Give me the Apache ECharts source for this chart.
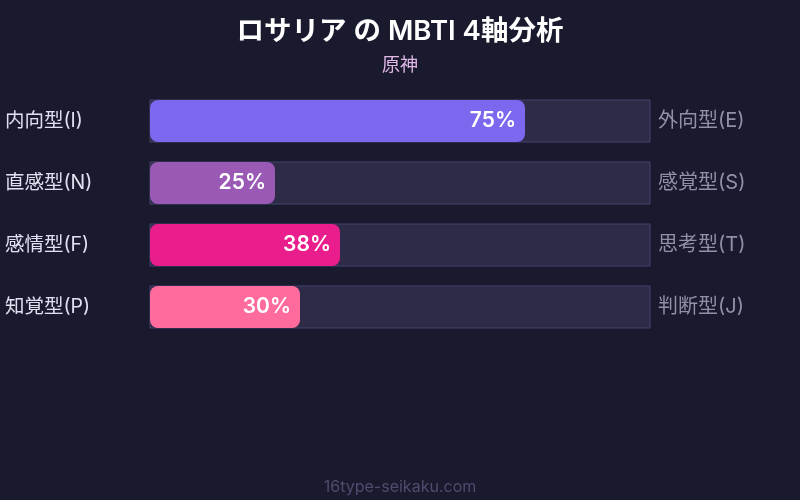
<!DOCTYPE html>
<html>
<head>
<meta charset="utf-8">
<script src="https://cdn.jsdelivr.net/npm/echarts@6/dist/echarts.min.js"></script>
<style>
  html, body { margin: 0; padding: 0; background: #1a1a2e; }
  #main { width: 800px; height: 500px; }
</style>
</head>
<body>
<div id="main"></div>
<script>
var leftLabels = ['内向型(I)', '直感型(N)', '感情型(F)', '知覚型(P)'];
var rightLabels = ['外向型(E)', '感覚型(S)', '思考型(T)', '判断型(J)'];
var values = [75, 25, 38, 30];
var barColors = ['#7b68ee', '#9b59b6', '#e91e8c', '#ff6b9d'];

var font = 'Inter, "Noto Sans CJK JP", sans-serif';
var myChart = echarts.init(document.getElementById('main'));

var option = {
  backgroundColor: '#1a1a2e',
  title: [
    {
      text: 'ロサリア の MBTI 4軸分析',
      left: 'center',
      top: 13,
      textStyle: { color: '#ffffff', fontSize: 27.5, fontWeight: 600, fontFamily: font }
    },
    {
      text: '原神',
      left: 'center',
      top: 52,
      textStyle: { color: '#e0b8e8', fontSize: 18, fontWeight: 'normal', fontFamily: font }
    },
    {
      text: '16type-seikaku.com',
      left: 'center',
      top: 474,
      textStyle: { color: '#4e4c6e', fontSize: 16, fontWeight: 'normal', fontFamily: font }
    }
  ],
  grid: { left: 150, right: 150, top: 90, bottom: 162 },
  xAxis: {
    type: 'value',
    min: 0,
    max: 100,
    show: false
  },
  yAxis: [
    {
      type: 'category',
      data: leftLabels,
      inverse: true,
      axisLine: { show: false },
      axisTick: { show: false },
      axisLabel: {
        align: 'left',
        margin: 145,
        color: '#e0e0f0',
        fontSize: 19.5,
        fontFamily: font
      }
    },
    {
      type: 'category',
      data: rightLabels,
      inverse: true,
      position: 'right',
      axisLine: { show: false },
      axisTick: { show: false },
      axisLabel: {
        margin: 8,
        color: '#9090a8',
        fontSize: 20,
        fontFamily: font
      }
    }
  ],
  series: [
    {
      type: 'bar',
      barWidth: 42,
      data: values.map(function (v, i) {
        return { value: v, itemStyle: { color: barColors[i] } };
      }),
      itemStyle: { borderRadius: 8 },
      showBackground: true,
      backgroundStyle: {
        color: '#2d2b48',
        borderColor: '#45436a',
        borderWidth: 1
      },
      label: {
        show: true,
        position: 'insideRight',
        distance: 9,
        formatter: '{c}%',
        color: '#ffffff',
        fontSize: 21,
        fontWeight: 600,
        fontFamily: font
      }
    }
  ]
};

myChart.setOption(option);
</script>
</body>
</html>
